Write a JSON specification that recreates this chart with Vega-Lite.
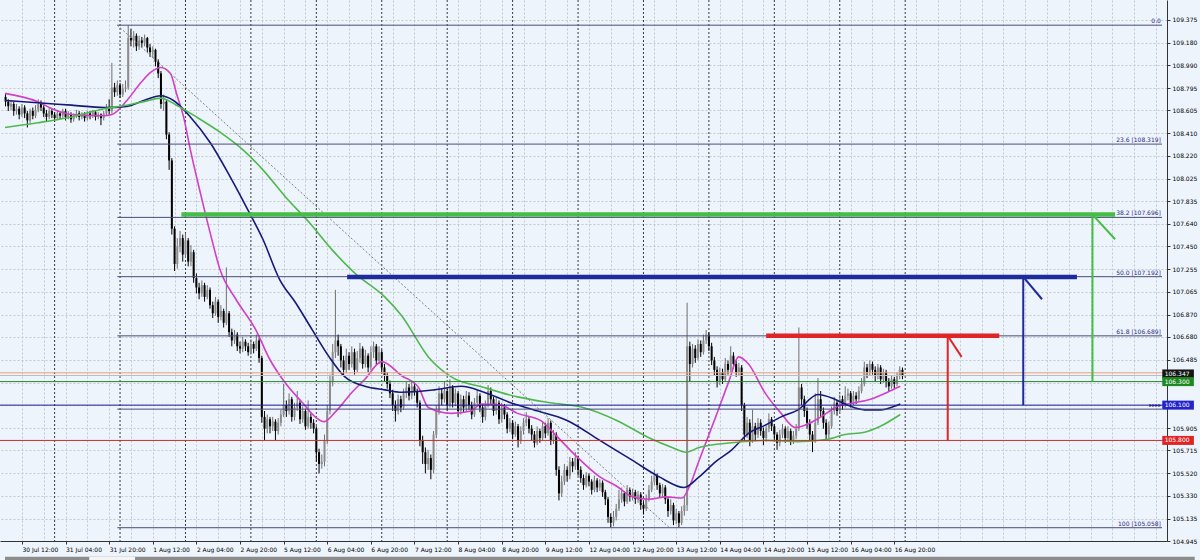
{
"$schema": "https://vega.github.io/schema/vega-lite/v6.json",
"width": 1167, "height": 541,
"autosize": {"type": "none"},
"padding": {"left": 0, "top": 0, "right": 33, "bottom": 19},
"background": "#eef4fb",
"resolve": {"scale": {"color": "independent", "strokeWidth": "independent"}},
"config": {"font": "DejaVu Sans", "view": {"stroke": null}, "axis": {"labelFont": "DejaVu Sans", "labelFontSize": 6, "labelColor": "#000", "labelOverlap": false, "labelFlush": false, "labelBound": false}},
"datasets": {
"candles": [
{"i":-18,"o":108.72,"h":108.75,"l":108.64,"c":108.68},{"i":-17,"o":108.68,"h":108.70,"l":108.60,"c":108.64},{"i":-16,"o":108.64,"h":108.69,"l":108.61,"c":108.66},{"i":-15,"o":108.66,"h":108.68,"l":108.56,"c":108.60},{"i":-14,"o":108.60,"h":108.66,"l":108.57,"c":108.62},{"i":-13,"o":108.62,"h":108.64,"l":108.53,"c":108.57},{"i":-12,"o":108.57,"h":108.66,"l":108.55,"c":108.63},{"i":-11,"o":108.63,"h":108.65,"l":108.54,"c":108.58},{"i":-10,"o":108.58,"h":108.60,"l":108.46,"c":108.52},{"i":-9,"o":108.52,"h":108.62,"l":108.50,"c":108.60},{"i":-8,"o":108.60,"h":108.63,"l":108.53,"c":108.56},{"i":-7,"o":108.56,"h":108.65,"l":108.54,"c":108.61},{"i":-6,"o":108.61,"h":108.70,"l":108.59,"c":108.66},{"i":-5,"o":108.66,"h":108.69,"l":108.60,"c":108.63},{"i":-4,"o":108.63,"h":108.65,"l":108.55,"c":108.58},{"i":-3,"o":108.58,"h":108.61,"l":108.51,"c":108.55},{"i":-2,"o":108.55,"h":108.63,"l":108.53,"c":108.60},{"i":-1,"o":108.60,"h":108.62,"l":108.54,"c":108.57},
{"i":0,"o":108.57,"h":108.59,"l":108.51,"c":108.54},{"i":1,"o":108.54,"h":108.61,"l":108.52,"c":108.58},{"i":2,"o":108.58,"h":108.60,"l":108.53,"c":108.56},{"i":3,"o":108.56,"h":108.62,"l":108.54,"c":108.60},{"i":4,"o":108.60,"h":108.62,"l":108.52,"c":108.55},{"i":5,"o":108.55,"h":108.60,"l":108.53,"c":108.57},{"i":6,"o":108.57,"h":108.59,"l":108.50,"c":108.53},{"i":7,"o":108.53,"h":108.58,"l":108.51,"c":108.56},{"i":8,"o":108.56,"h":108.61,"l":108.54,"c":108.58},{"i":9,"o":108.58,"h":108.60,"l":108.52,"c":108.55},{"i":10,"o":108.55,"h":108.59,"l":108.53,"c":108.57},{"i":11,"o":108.57,"h":108.59,"l":108.51,"c":108.54},{"i":12,"o":108.54,"h":108.60,"l":108.52,"c":108.58},{"i":13,"o":108.58,"h":108.60,"l":108.53,"c":108.56},{"i":14,"o":108.56,"h":108.61,"l":108.54,"c":108.59},{"i":15,"o":108.59,"h":108.60,"l":108.52,"c":108.55},{"i":16,"o":108.55,"h":108.59,"l":108.53,"c":108.57},{"i":17,"o":108.57,"h":108.58,"l":108.48,"c":108.54},{"i":18,"o":108.54,"h":108.60,"l":108.52,"c":108.58},{"i":19,"o":108.58,"h":108.66,"l":108.56,"c":108.62},
{"i":20,"o":108.62,"h":108.70,"l":108.57,"c":108.60},{"i":21,"o":108.60,"h":109.01,"l":108.58,"c":108.80},{"i":22,"o":108.80,"h":108.84,"l":108.72,"c":108.76},{"i":23,"o":108.76,"h":108.86,"l":108.73,"c":108.82},{"i":24,"o":108.82,"h":108.84,"l":108.71,"c":108.74},{"i":25,"o":108.74,"h":108.83,"l":108.72,"c":108.79},{"i":26,"o":108.79,"h":108.86,"l":108.76,"c":108.80},{"i":27,"o":108.80,"h":109.33,"l":108.78,"c":109.22},{"i":28,"o":109.22,"h":109.30,"l":109.15,"c":109.20},{"i":29,"o":109.20,"h":109.28,"l":109.14,"c":109.24},{"i":30,"o":109.24,"h":109.26,"l":109.11,"c":109.15},{"i":31,"o":109.15,"h":109.24,"l":109.12,"c":109.20},{"i":32,"o":109.20,"h":109.23,"l":109.14,"c":109.18},{"i":33,"o":109.18,"h":109.25,"l":109.15,"c":109.22},{"i":34,"o":109.22,"h":109.23,"l":109.10,"c":109.14},{"i":35,"o":109.14,"h":109.17,"l":109.06,"c":109.10},{"i":36,"o":109.10,"h":109.15,"l":109.05,"c":109.12},{"i":37,"o":109.12,"h":109.13,"l":108.98,"c":109.02},{"i":38,"o":109.02,"h":109.04,"l":108.88,"c":108.92},{"i":39,"o":108.92,"h":108.94,"l":108.62,"c":108.66},
{"i":40,"o":108.66,"h":108.74,"l":108.60,"c":108.68},{"i":41,"o":108.68,"h":108.70,"l":108.36,"c":108.40},{"i":42,"o":108.40,"h":108.42,"l":108.10,"c":108.18},{"i":43,"o":108.18,"h":108.20,"l":107.55,"c":107.60},{"i":44,"o":107.60,"h":107.62,"l":107.24,"c":107.30},{"i":45,"o":107.30,"h":107.52,"l":107.26,"c":107.45},{"i":46,"o":107.45,"h":107.58,"l":107.40,"c":107.52},{"i":47,"o":107.52,"h":107.55,"l":107.32,"c":107.38},{"i":48,"o":107.38,"h":107.56,"l":107.35,"c":107.50},{"i":49,"o":107.50,"h":107.52,"l":107.28,"c":107.32},{"i":50,"o":107.32,"h":107.46,"l":107.28,"c":107.40},{"i":51,"o":107.40,"h":107.42,"l":107.14,"c":107.18},{"i":52,"o":107.18,"h":107.22,"l":107.05,"c":107.10},{"i":53,"o":107.10,"h":107.14,"l":107.00,"c":107.05},{"i":54,"o":107.05,"h":107.16,"l":107.02,"c":107.12},{"i":55,"o":107.12,"h":107.14,"l":106.98,"c":107.02},{"i":56,"o":107.02,"h":107.12,"l":107.00,"c":107.08},{"i":57,"o":107.08,"h":107.10,"l":106.92,"c":106.95},{"i":58,"o":106.95,"h":106.98,"l":106.84,"c":106.88},{"i":59,"o":106.88,"h":107.02,"l":106.86,"c":106.98},
{"i":60,"o":106.98,"h":107.00,"l":106.80,"c":106.85},{"i":61,"o":106.85,"h":106.95,"l":106.82,"c":106.90},{"i":62,"o":106.90,"h":106.92,"l":106.76,"c":106.80},{"i":63,"o":106.80,"h":107.27,"l":106.78,"c":106.88},{"i":64,"o":106.88,"h":106.90,"l":106.68,"c":106.72},{"i":65,"o":106.72,"h":106.75,"l":106.60,"c":106.65},{"i":66,"o":106.65,"h":106.74,"l":106.62,"c":106.70},{"i":67,"o":106.70,"h":106.72,"l":106.56,"c":106.60},{"i":68,"o":106.60,"h":106.64,"l":106.54,"c":106.58},{"i":69,"o":106.58,"h":106.68,"l":106.55,"c":106.64},{"i":70,"o":106.64,"h":106.66,"l":106.56,"c":106.60},{"i":71,"o":106.60,"h":106.63,"l":106.52,"c":106.55},{"i":72,"o":106.55,"h":106.66,"l":106.53,"c":106.62},{"i":73,"o":106.62,"h":106.64,"l":106.54,"c":106.58},{"i":74,"o":106.58,"h":106.70,"l":106.56,"c":106.65},{"i":75,"o":106.65,"h":106.67,"l":106.46,"c":106.50},{"i":76,"o":106.50,"h":106.52,"l":105.95,"c":106.00},{"i":77,"o":106.00,"h":106.05,"l":105.80,"c":105.90},{"i":78,"o":105.90,"h":106.02,"l":105.86,"c":105.98},{"i":79,"o":105.98,"h":106.00,"l":105.86,"c":105.92},
{"i":80,"o":105.92,"h":106.00,"l":105.88,"c":105.96},{"i":81,"o":105.96,"h":105.98,"l":105.80,"c":105.88},{"i":82,"o":105.88,"h":105.99,"l":105.85,"c":105.95},{"i":83,"o":105.95,"h":106.06,"l":105.92,"c":106.02},{"i":84,"o":106.02,"h":106.28,"l":106.00,"c":106.10},{"i":85,"o":106.10,"h":106.14,"l":106.00,"c":106.05},{"i":86,"o":106.05,"h":106.20,"l":106.02,"c":106.15},{"i":87,"o":106.15,"h":106.17,"l":105.96,"c":106.00},{"i":88,"o":106.00,"h":106.12,"l":105.97,"c":106.08},{"i":89,"o":106.08,"h":106.22,"l":106.05,"c":106.12},{"i":90,"o":106.12,"h":106.14,"l":105.94,"c":105.98},{"i":91,"o":105.98,"h":106.09,"l":105.95,"c":106.05},{"i":92,"o":106.05,"h":106.07,"l":105.89,"c":105.92},{"i":93,"o":105.92,"h":106.14,"l":105.90,"c":106.00},{"i":94,"o":106.00,"h":106.03,"l":105.90,"c":105.95},{"i":95,"o":105.95,"h":105.98,"l":105.86,"c":105.90},{"i":96,"o":105.90,"h":105.92,"l":105.62,"c":105.70},{"i":97,"o":105.70,"h":105.73,"l":105.52,"c":105.60},{"i":98,"o":105.60,"h":105.68,"l":105.56,"c":105.62},{"i":99,"o":105.62,"h":105.85,"l":105.58,"c":105.80},
{"i":100,"o":105.80,"h":106.10,"l":105.77,"c":106.05},{"i":101,"o":106.05,"h":106.36,"l":106.02,"c":106.30},{"i":102,"o":106.30,"h":106.62,"l":106.26,"c":106.55},{"i":103,"o":106.55,"h":107.08,"l":106.50,"c":106.65},{"i":104,"o":106.65,"h":106.70,"l":106.52,"c":106.60},{"i":105,"o":106.60,"h":106.62,"l":106.42,"c":106.48},{"i":106,"o":106.48,"h":106.52,"l":106.35,"c":106.40},{"i":107,"o":106.40,"h":106.58,"l":106.37,"c":106.52},{"i":108,"o":106.52,"h":106.55,"l":106.40,"c":106.45},{"i":109,"o":106.45,"h":106.60,"l":106.42,"c":106.55},{"i":110,"o":106.55,"h":106.58,"l":106.36,"c":106.40},{"i":111,"o":106.40,"h":106.56,"l":106.38,"c":106.50},{"i":112,"o":106.50,"h":106.63,"l":106.46,"c":106.58},{"i":113,"o":106.58,"h":106.60,"l":106.41,"c":106.45},{"i":114,"o":106.45,"h":106.57,"l":106.42,"c":106.52},{"i":115,"o":106.52,"h":106.54,"l":106.38,"c":106.42},{"i":116,"o":106.42,"h":106.60,"l":106.40,"c":106.55},{"i":117,"o":106.55,"h":106.64,"l":106.50,"c":106.60},{"i":118,"o":106.60,"h":106.62,"l":106.44,"c":106.48},{"i":119,"o":106.48,"h":106.60,"l":106.45,"c":106.55},
{"i":120,"o":106.55,"h":106.57,"l":106.38,"c":106.42},{"i":121,"o":106.42,"h":106.45,"l":106.30,"c":106.35},{"i":122,"o":106.35,"h":106.38,"l":106.24,"c":106.28},{"i":123,"o":106.28,"h":106.31,"l":106.16,"c":106.20},{"i":124,"o":106.20,"h":106.23,"l":106.05,"c":106.10},{"i":125,"o":106.10,"h":106.14,"l":105.96,"c":106.05},{"i":126,"o":106.05,"h":106.19,"l":106.02,"c":106.15},{"i":127,"o":106.15,"h":106.18,"l":106.04,"c":106.08},{"i":128,"o":106.08,"h":106.24,"l":106.06,"c":106.20},{"i":129,"o":106.20,"h":106.30,"l":106.16,"c":106.25},{"i":130,"o":106.25,"h":106.28,"l":106.14,"c":106.18},{"i":131,"o":106.18,"h":106.31,"l":106.15,"c":106.26},{"i":132,"o":106.26,"h":106.29,"l":106.18,"c":106.22},{"i":133,"o":106.22,"h":106.24,"l":106.08,"c":106.12},{"i":134,"o":106.12,"h":106.14,"l":105.75,"c":105.80},{"i":135,"o":105.80,"h":105.84,"l":105.60,"c":105.70},{"i":136,"o":105.70,"h":105.74,"l":105.52,"c":105.60},{"i":137,"o":105.60,"h":105.72,"l":105.55,"c":105.65},{"i":138,"o":105.65,"h":105.68,"l":105.47,"c":105.55},{"i":139,"o":105.55,"h":105.88,"l":105.52,"c":105.85},
{"i":140,"o":105.85,"h":106.10,"l":105.82,"c":106.05},{"i":141,"o":106.05,"h":106.26,"l":106.02,"c":106.20},{"i":142,"o":106.20,"h":106.24,"l":106.10,"c":106.15},{"i":143,"o":106.15,"h":106.30,"l":106.12,"c":106.22},{"i":144,"o":106.22,"h":106.24,"l":106.05,"c":106.10},{"i":145,"o":106.10,"h":106.32,"l":106.08,"c":106.25},{"i":146,"o":106.25,"h":106.27,"l":106.08,"c":106.12},{"i":147,"o":106.12,"h":106.24,"l":106.09,"c":106.20},{"i":148,"o":106.20,"h":106.22,"l":106.00,"c":106.05},{"i":149,"o":106.05,"h":106.19,"l":106.02,"c":106.15},{"i":150,"o":106.15,"h":106.18,"l":106.04,"c":106.08},{"i":151,"o":106.08,"h":106.22,"l":106.05,"c":106.18},{"i":152,"o":106.18,"h":106.21,"l":106.06,"c":106.10},{"i":153,"o":106.10,"h":106.13,"l":105.98,"c":106.02},{"i":154,"o":106.02,"h":106.16,"l":106.00,"c":106.12},{"i":155,"o":106.12,"h":106.23,"l":106.09,"c":106.18},{"i":156,"o":106.18,"h":106.20,"l":106.04,"c":106.08},{"i":157,"o":106.08,"h":106.11,"l":105.95,"c":106.00},{"i":158,"o":106.00,"h":106.14,"l":105.97,"c":106.10},{"i":159,"o":106.10,"h":106.27,"l":106.08,"c":106.22},
{"i":160,"o":106.22,"h":106.25,"l":106.11,"c":106.15},{"i":161,"o":106.15,"h":106.17,"l":106.01,"c":106.05},{"i":162,"o":106.05,"h":106.16,"l":106.02,"c":106.12},{"i":163,"o":106.12,"h":106.14,"l":105.94,"c":105.98},{"i":164,"o":105.98,"h":106.12,"l":105.95,"c":106.08},{"i":165,"o":106.08,"h":106.11,"l":105.98,"c":106.02},{"i":166,"o":106.02,"h":106.04,"l":105.86,"c":105.90},{"i":167,"o":105.90,"h":105.99,"l":105.87,"c":105.95},{"i":168,"o":105.95,"h":105.97,"l":105.81,"c":105.85},{"i":169,"o":105.85,"h":105.96,"l":105.83,"c":105.92},{"i":170,"o":105.92,"h":105.94,"l":105.74,"c":105.80},{"i":171,"o":105.80,"h":105.92,"l":105.77,"c":105.88},{"i":172,"o":105.88,"h":105.99,"l":105.85,"c":105.95},{"i":173,"o":105.95,"h":106.04,"l":105.92,"c":105.98},{"i":174,"o":105.98,"h":106.00,"l":105.86,"c":105.90},{"i":175,"o":105.90,"h":105.93,"l":105.80,"c":105.85},{"i":176,"o":105.85,"h":105.88,"l":105.74,"c":105.78},{"i":177,"o":105.78,"h":105.92,"l":105.76,"c":105.88},{"i":178,"o":105.88,"h":105.90,"l":105.78,"c":105.82},{"i":179,"o":105.82,"h":105.96,"l":105.80,"c":105.92},
{"i":180,"o":105.92,"h":105.95,"l":105.82,"c":105.86},{"i":181,"o":105.86,"h":105.99,"l":105.84,"c":105.95},{"i":182,"o":105.95,"h":105.97,"l":105.76,"c":105.80},{"i":183,"o":105.80,"h":105.89,"l":105.77,"c":105.85},{"i":184,"o":105.85,"h":105.87,"l":105.50,"c":105.55},{"i":185,"o":105.55,"h":105.58,"l":105.29,"c":105.35},{"i":186,"o":105.35,"h":105.50,"l":105.32,"c":105.45},{"i":187,"o":105.45,"h":105.60,"l":105.42,"c":105.55},{"i":188,"o":105.55,"h":105.58,"l":105.45,"c":105.50},{"i":189,"o":105.50,"h":105.66,"l":105.47,"c":105.62},{"i":190,"o":105.62,"h":105.65,"l":105.53,"c":105.58},{"i":191,"o":105.58,"h":105.70,"l":105.55,"c":105.65},{"i":192,"o":105.65,"h":105.67,"l":105.50,"c":105.55},{"i":193,"o":105.55,"h":105.58,"l":105.44,"c":105.48},{"i":194,"o":105.48,"h":105.51,"l":105.38,"c":105.42},{"i":195,"o":105.42,"h":105.53,"l":105.40,"c":105.50},{"i":196,"o":105.50,"h":105.52,"l":105.41,"c":105.45},{"i":197,"o":105.45,"h":105.47,"l":105.34,"c":105.38},{"i":198,"o":105.38,"h":105.50,"l":105.36,"c":105.46},{"i":199,"o":105.46,"h":105.48,"l":105.36,"c":105.40},
{"i":200,"o":105.40,"h":105.47,"l":105.37,"c":105.44},{"i":201,"o":105.44,"h":105.46,"l":105.32,"c":105.36},{"i":202,"o":105.36,"h":105.38,"l":105.25,"c":105.30},{"i":203,"o":105.30,"h":105.32,"l":105.10,"c":105.15},{"i":204,"o":105.15,"h":105.18,"l":105.06,"c":105.10},{"i":205,"o":105.10,"h":105.20,"l":105.07,"c":105.15},{"i":206,"o":105.15,"h":105.26,"l":105.12,"c":105.22},{"i":207,"o":105.22,"h":105.38,"l":105.20,"c":105.30},{"i":208,"o":105.30,"h":105.40,"l":105.27,"c":105.35},{"i":209,"o":105.35,"h":105.37,"l":105.24,"c":105.28},{"i":210,"o":105.28,"h":105.42,"l":105.26,"c":105.38},{"i":211,"o":105.38,"h":105.40,"l":105.28,"c":105.32},{"i":212,"o":105.32,"h":105.39,"l":105.29,"c":105.36},{"i":213,"o":105.36,"h":105.38,"l":105.26,"c":105.30},{"i":214,"o":105.30,"h":105.37,"l":105.27,"c":105.34},{"i":215,"o":105.34,"h":105.36,"l":105.21,"c":105.25},{"i":216,"o":105.25,"h":105.28,"l":105.17,"c":105.22},{"i":217,"o":105.22,"h":105.34,"l":105.20,"c":105.30},{"i":218,"o":105.30,"h":105.42,"l":105.28,"c":105.38},{"i":219,"o":105.38,"h":105.50,"l":105.36,"c":105.45},
{"i":220,"o":105.45,"h":105.55,"l":105.42,"c":105.50},{"i":221,"o":105.50,"h":105.52,"l":105.38,"c":105.42},{"i":222,"o":105.42,"h":105.44,"l":105.31,"c":105.35},{"i":223,"o":105.35,"h":105.43,"l":105.32,"c":105.40},{"i":224,"o":105.40,"h":105.42,"l":105.26,"c":105.30},{"i":225,"o":105.30,"h":105.32,"l":105.15,"c":105.20},{"i":226,"o":105.20,"h":105.30,"l":105.17,"c":105.25},{"i":227,"o":105.25,"h":105.27,"l":105.08,"c":105.12},{"i":228,"o":105.12,"h":105.22,"l":105.09,"c":105.18},{"i":229,"o":105.18,"h":105.20,"l":105.06,"c":105.10},{"i":230,"o":105.10,"h":105.24,"l":105.08,"c":105.20},{"i":231,"o":105.20,"h":105.32,"l":105.16,"c":105.25},{"i":232,"o":105.25,"h":106.97,"l":105.20,"c":106.60},{"i":233,"o":106.60,"h":106.64,"l":106.30,"c":106.45},{"i":234,"o":106.45,"h":106.62,"l":106.42,"c":106.58},{"i":235,"o":106.58,"h":106.61,"l":106.46,"c":106.50},{"i":236,"o":106.50,"h":106.66,"l":106.48,"c":106.62},{"i":237,"o":106.62,"h":106.65,"l":106.51,"c":106.55},{"i":238,"o":106.55,"h":106.70,"l":106.53,"c":106.65},{"i":239,"o":106.65,"h":106.74,"l":106.62,"c":106.70},
{"i":240,"o":106.70,"h":106.72,"l":106.56,"c":106.60},{"i":241,"o":106.60,"h":106.63,"l":106.44,"c":106.48},{"i":242,"o":106.48,"h":106.51,"l":106.35,"c":106.40},{"i":243,"o":106.40,"h":106.43,"l":106.25,"c":106.30},{"i":244,"o":106.30,"h":106.42,"l":106.27,"c":106.38},{"i":245,"o":106.38,"h":106.41,"l":106.28,"c":106.32},{"i":246,"o":106.32,"h":106.50,"l":106.30,"c":106.45},{"i":247,"o":106.45,"h":106.48,"l":106.36,"c":106.40},{"i":248,"o":106.40,"h":106.60,"l":106.38,"c":106.52},{"i":249,"o":106.52,"h":106.55,"l":106.41,"c":106.45},{"i":250,"o":106.45,"h":106.48,"l":106.34,"c":106.38},{"i":251,"o":106.38,"h":106.46,"l":106.35,"c":106.42},{"i":252,"o":106.42,"h":106.44,"l":106.05,"c":106.10},{"i":253,"o":106.10,"h":106.12,"l":105.80,"c":105.85},{"i":254,"o":105.85,"h":106.00,"l":105.82,"c":105.95},{"i":255,"o":105.95,"h":105.98,"l":105.75,"c":105.80},{"i":256,"o":105.80,"h":106.06,"l":105.78,"c":105.92},{"i":257,"o":105.92,"h":105.95,"l":105.80,"c":105.85},{"i":258,"o":105.85,"h":105.99,"l":105.82,"c":105.95},{"i":259,"o":105.95,"h":105.98,"l":105.84,"c":105.88},
{"i":260,"o":105.88,"h":105.91,"l":105.76,"c":105.82},{"i":261,"o":105.82,"h":105.94,"l":105.79,"c":105.90},{"i":262,"o":105.90,"h":106.03,"l":105.87,"c":105.98},{"i":263,"o":105.98,"h":106.00,"l":105.88,"c":105.92},{"i":264,"o":105.92,"h":105.94,"l":105.80,"c":105.85},{"i":265,"o":105.85,"h":105.87,"l":105.72,"c":105.78},{"i":266,"o":105.78,"h":105.89,"l":105.75,"c":105.85},{"i":267,"o":105.85,"h":105.94,"l":105.82,"c":105.90},{"i":268,"o":105.90,"h":105.92,"l":105.78,"c":105.82},{"i":269,"o":105.82,"h":105.92,"l":105.79,"c":105.88},{"i":270,"o":105.88,"h":105.90,"l":105.76,"c":105.80},{"i":271,"o":105.80,"h":105.88,"l":105.77,"c":105.84},{"i":272,"o":105.84,"h":105.94,"l":105.81,"c":105.90},{"i":273,"o":105.90,"h":106.76,"l":105.88,"c":106.25},{"i":274,"o":106.25,"h":106.28,"l":106.10,"c":106.15},{"i":275,"o":106.15,"h":106.18,"l":106.00,"c":106.05},{"i":276,"o":106.05,"h":106.08,"l":105.90,"c":105.95},{"i":277,"o":105.95,"h":105.98,"l":105.80,"c":105.85},{"i":278,"o":105.85,"h":105.88,"l":105.70,"c":105.80},{"i":279,"o":105.80,"h":106.20,"l":105.78,"c":105.95},
{"i":280,"o":105.95,"h":106.33,"l":105.93,"c":106.15},{"i":281,"o":106.15,"h":106.22,"l":106.00,"c":106.05},{"i":282,"o":106.05,"h":106.08,"l":105.90,"c":105.95},{"i":283,"o":105.95,"h":105.98,"l":105.80,"c":105.85},{"i":284,"o":105.85,"h":105.96,"l":105.82,"c":105.92},{"i":285,"o":105.92,"h":106.09,"l":105.90,"c":106.05},{"i":286,"o":106.05,"h":106.17,"l":106.02,"c":106.12},{"i":287,"o":106.12,"h":106.14,"l":106.01,"c":106.05},{"i":288,"o":106.05,"h":106.19,"l":106.03,"c":106.15},{"i":289,"o":106.15,"h":106.18,"l":106.06,"c":106.10},{"i":290,"o":106.10,"h":106.26,"l":106.08,"c":106.18},{"i":291,"o":106.18,"h":106.24,"l":106.14,"c":106.20},{"i":292,"o":106.20,"h":106.22,"l":106.08,"c":106.12},{"i":293,"o":106.12,"h":106.22,"l":106.10,"c":106.18},{"i":294,"o":106.18,"h":106.21,"l":106.11,"c":106.15},{"i":295,"o":106.15,"h":106.26,"l":106.13,"c":106.22},{"i":296,"o":106.22,"h":106.33,"l":106.20,"c":106.28},{"i":297,"o":106.28,"h":106.47,"l":106.26,"c":106.42},{"i":298,"o":106.42,"h":106.45,"l":106.33,"c":106.38},{"i":299,"o":106.38,"h":106.48,"l":106.35,"c":106.45},
{"i":300,"o":106.45,"h":106.47,"l":106.36,"c":106.40},{"i":301,"o":106.40,"h":106.43,"l":106.30,"c":106.35},{"i":302,"o":106.35,"h":106.45,"l":106.32,"c":106.42},{"i":303,"o":106.42,"h":106.44,"l":106.28,"c":106.32},{"i":304,"o":106.32,"h":106.41,"l":106.29,"c":106.38},{"i":305,"o":106.38,"h":106.40,"l":106.25,"c":106.30},{"i":306,"o":106.30,"h":106.33,"l":106.22,"c":106.26},{"i":307,"o":106.26,"h":106.35,"l":106.24,"c":106.32},{"i":308,"o":106.32,"h":106.34,"l":106.24,"c":106.28},{"i":309,"o":106.28,"h":106.38,"l":106.26,"c":106.35},{"i":310,"o":106.35,"h":106.43,"l":106.32,"c":106.40},{"i":311,"o":106.40,"h":106.42,"l":106.32,"c":106.347}
],
"ma": [
{"s":"fast","i":-18.2,"p":108.75},{"s":"fast","i":-6.2,"p":108.68},{"s":"fast","i":0,"p":108.61},{"s":"fast","i":6.2,"p":108.57},{"s":"fast","i":18,"p":108.56},{"s":"fast","i":21,"p":108.57},{"s":"fast","i":26.5,"p":108.69},{"s":"fast","i":31.6,"p":108.84},{"s":"fast","i":35.3,"p":108.93},{"s":"fast","i":38.9,"p":108.97},{"s":"fast","i":42.5,"p":108.92},{"s":"fast","i":44.7,"p":108.75},{"s":"fast","i":47.3,"p":108.55},{"s":"fast","i":49.8,"p":108.27},{"s":"fast","i":53.5,"p":107.9},{"s":"fast","i":57.1,"p":107.56},{"s":"fast","i":60.7,"p":107.25},{"s":"fast","i":66.5,"p":107.0},{"s":"fast","i":73.8,"p":106.74},{"s":"fast","i":78.9,"p":106.49},{"s":"fast","i":83.6,"p":106.32},{"s":"fast","i":90.9,"p":106.12},{"s":"fast","i":95.6,"p":106.0},{"s":"fast","i":98.9,"p":105.96},{"s":"fast","i":102.9,"p":106.04},{"s":"fast","i":109.1,"p":106.21},{"s":"fast","i":113.8,"p":106.32},{"s":"fast","i":120,"p":106.47},{"s":"fast","i":127.3,"p":106.35},{"s":"fast","i":133.5,"p":106.25},{"s":"fast","i":137.1,"p":106.08},{"s":"fast","i":145.5,"p":106.03},{"s":"fast","i":152.7,"p":106.05},{"s":"fast","i":156.4,"p":106.11},{"s":"fast","i":163.6,"p":106.1},{"s":"fast","i":169.8,"p":106.03},{"s":"fast","i":178.2,"p":105.97},{"s":"fast","i":184.4,"p":105.83},{"s":"fast","i":191.6,"p":105.66},{"s":"fast","i":200,"p":105.49},{"s":"fast","i":206.2,"p":105.41},{"s":"fast","i":212,"p":105.32},{"s":"fast","i":218.2,"p":105.3},{"s":"fast","i":224.4,"p":105.32},{"s":"fast","i":230.2,"p":105.31},{"s":"fast","i":232.7,"p":105.4},{"s":"fast","i":236.4,"p":105.63},{"s":"fast","i":242.5,"p":106.0},{"s":"fast","i":247.3,"p":106.3},{"s":"fast","i":250.9,"p":106.51},{"s":"fast","i":254.5,"p":106.45},{"s":"fast","i":260.7,"p":106.2},{"s":"fast","i":266.5,"p":106.03},{"s":"fast","i":271.6,"p":105.91},{"s":"fast","i":275.3,"p":105.93},{"s":"fast","i":281.1,"p":106.0},{"s":"fast","i":287.3,"p":106.09},{"s":"fast","i":293.5,"p":106.12},{"s":"fast","i":299.3,"p":106.15},{"s":"fast","i":305.5,"p":106.21},{"s":"fast","i":310.2,"p":106.26},
{"s":"mid","i":-18.2,"p":108.69},{"s":"mid","i":-6.2,"p":108.67},{"s":"mid","i":6.2,"p":108.65},{"s":"mid","i":18.2,"p":108.63},{"s":"mid","i":26.5,"p":108.64},{"s":"mid","i":32.7,"p":108.69},{"s":"mid","i":38.9,"p":108.73},{"s":"mid","i":43.6,"p":108.69},{"s":"mid","i":49.8,"p":108.55},{"s":"mid","i":57.1,"p":108.33},{"s":"mid","i":64.4,"p":108.04},{"s":"mid","i":70.2,"p":107.79},{"s":"mid","i":76.4,"p":107.51},{"s":"mid","i":82.5,"p":107.17},{"s":"mid","i":88.4,"p":106.97},{"s":"mid","i":94.5,"p":106.74},{"s":"mid","i":100.7,"p":106.51},{"s":"mid","i":106.5,"p":106.34},{"s":"mid","i":113.8,"p":106.26},{"s":"mid","i":121.1,"p":106.23},{"s":"mid","i":127.3,"p":106.21},{"s":"mid","i":139.3,"p":106.23},{"s":"mid","i":149.1,"p":106.26},{"s":"mid","i":157.5,"p":106.21},{"s":"mid","i":167.3,"p":106.12},{"s":"mid","i":175.6,"p":106.06},{"s":"mid","i":188,"p":105.97},{"s":"mid","i":200,"p":105.8},{"s":"mid","i":212,"p":105.63},{"s":"mid","i":221.8,"p":105.49},{"s":"mid","i":230.9,"p":105.4},{"s":"mid","i":236.4,"p":105.49},{"s":"mid","i":242.5,"p":105.62},{"s":"mid","i":248.4,"p":105.72},{"s":"mid","i":254.5,"p":105.86},{"s":"mid","i":260.7,"p":105.93},{"s":"mid","i":266.5,"p":106.0},{"s":"mid","i":272.7,"p":106.06},{"s":"mid","i":280,"p":106.19},{"s":"mid","i":286.2,"p":106.15},{"s":"mid","i":290.9,"p":106.1},{"s":"mid","i":297.1,"p":106.06},{"s":"mid","i":302.9,"p":106.06},{"s":"mid","i":308,"p":106.09},{"s":"mid","i":310.2,"p":106.11},
{"s":"slow","i":-18.2,"p":108.46},{"s":"slow","i":-6.2,"p":108.5},{"s":"slow","i":6.2,"p":108.55},{"s":"slow","i":18.2,"p":108.62},{"s":"slow","i":26.5,"p":108.65},{"s":"slow","i":32.7,"p":108.68},{"s":"slow","i":38.9,"p":108.71},{"s":"slow","i":44.7,"p":108.65},{"s":"slow","i":52,"p":108.55},{"s":"slow","i":60.7,"p":108.42},{"s":"slow","i":69.1,"p":108.27},{"s":"slow","i":76.4,"p":108.1},{"s":"slow","i":84.7,"p":107.87},{"s":"slow","i":93.5,"p":107.65},{"s":"slow","i":101.8,"p":107.42},{"s":"slow","i":110.2,"p":107.22},{"s":"slow","i":121.1,"p":107.02},{"s":"slow","i":127.3,"p":106.86},{"s":"slow","i":137.1,"p":106.51},{"s":"slow","i":145.5,"p":106.34},{"s":"slow","i":157.5,"p":106.25},{"s":"slow","i":169.8,"p":106.17},{"s":"slow","i":181.8,"p":106.12},{"s":"slow","i":193.8,"p":106.08},{"s":"slow","i":206.2,"p":105.97},{"s":"slow","i":218.2,"p":105.82},{"s":"slow","i":226.5,"p":105.74},{"s":"slow","i":231.6,"p":105.7},{"s":"slow","i":236.4,"p":105.74},{"s":"slow","i":248.4,"p":105.78},{"s":"slow","i":260.7,"p":105.8},{"s":"slow","i":272.7,"p":105.79},{"s":"slow","i":283.6,"p":105.81},{"s":"slow","i":289.8,"p":105.85},{"s":"slow","i":297.1,"p":105.87},{"s":"slow","i":302.9,"p":105.92},{"s":"slow","i":310.2,"p":106.02}
],
"days": [{"d":0},{"d":24},{"d":48},{"d":72},{"d":96},{"d":120},{"d":144},{"d":168},{"d":192},{"d":216},{"d":240},{"d":264},{"d":288},{"d":312}],
"fibo": [{"p":109.33,"t":"0.0"},{"p":108.319,"t":"23.6 [108.319]"},{"p":107.696,"t":"38.2 [107.696]"},{"p":107.192,"t":"50.0 [107.192]"},{"p":106.689,"t":"61.8 [106.689]"},{"p":106.066,"t":""},{"p":105.058,"t":"100 [105.058]"}],
"fibdiag": [{"a":23,"p":109.33,"b":225.5,"q":105.058}],
"hlines": [{"p":106.375,"k":"orange"},{"p":106.352,"k":"bid"},{"p":106.3,"k":"green"},{"p":106.1,"k":"blue"},{"p":105.8,"k":"red"}],
"plabels": [{"p":106.365,"t":"106.347","k":"black"},{"p":106.3,"t":"106.300","k":"green"},{"p":106.1,"t":"106.100","k":"blue"},{"p":105.8,"t":"105.800","k":"red"}],
"marker": [{"p":106.1,"t":"▸▸▸▸"}],
"strip": [{"s":"bar","a":-18.2,"b":418.2},{"s":"tab","a":12.7,"b":29.5}],
"tlines": [
{"k":"green","w":"thick","a":46.5,"b":389,"p":107.72,"q":107.72},
{"k":"green","w":"thin","a":380.7,"b":380.7,"p":107.72,"q":106.3},
{"k":"green","w":"thin","a":380.7,"b":389,"p":107.72,"q":107.51},
{"k":"navy","w":"thick","a":107.3,"b":375,"p":107.19,"q":107.19},
{"k":"navy","w":"thin","a":355.3,"b":355.3,"p":107.19,"q":106.1},
{"k":"navy","w":"thin","a":355.3,"b":362.2,"p":107.19,"q":107.0},
{"k":"red","w":"thick","a":261,"b":346.5,"p":106.69,"q":106.69},
{"k":"red","w":"thin","a":327.6,"b":327.6,"p":106.69,"q":105.8},
{"k":"red","w":"thin","a":327.6,"b":332.7,"p":106.69,"q":106.51}
]
},
"layer": [
{
"data": {"name": "days"},
"mark": {"type": "rule", "color": "#3a3a3a", "strokeDash": [2, 2], "strokeWidth": 1},
"encoding": {
"x": {"field": "d", "type": "quantitative", "title": null, "scale": {"domain": [-18.2, 406.2], "nice": false, "zero": false},
"axis": {"orient": "bottom", "tickCount": 200, "values": [-12,-4,4,12,20,28,36,44,52,60,68,76,84,92,100,108,116,124,132,140,148,156,164,172,180,188,196,204,212,220,228,236,244,252,260,268,276,284,292,300,308,316,324,332,340,348,356,364,372,380,388,396,404],
"grid": true, "gridColor": "#c4c9d1", "gridDash": [2, 2], "domainColor": "#333", "tickSize": 3,
"tickColor": {"condition": {"test": "(datum.value + 12) % 16 != 0 || datum.value > 308", "value": "transparent"}, "value": "#333"},
"labelAlign": "left", "labelPadding": 2, "labelFlush": false, "labelOverlap": false, "labelBound": false,
"labelExpr": "(datum.value + 12) % 16 == 0 && datum.value <= 308 ? ['30 Jul 12:00','31 Jul 04:00','31 Jul 20:00','1 Aug 12:00','2 Aug 04:00','2 Aug 20:00','5 Aug 12:00','6 Aug 04:00','6 Aug 20:00','7 Aug 12:00','8 Aug 04:00','8 Aug 20:00','9 Aug 12:00','12 Aug 04:00','12 Aug 20:00','13 Aug 12:00','14 Aug 04:00','14 Aug 20:00','15 Aug 12:00','16 Aug 04:00','16 Aug 20:00'][(datum.value + 12) / 16] : ''"}}
}
},
{
"data": {"name": "candles"},
"mark": {"type": "rule", "strokeWidth": 1},
"encoding": {
"x": {"field": "i", "type": "quantitative", "title": null, "scale": {"domain": [-18.2, 406.2], "nice": false, "zero": false}},
"y": {"field": "l", "type": "quantitative", "title": null, "scale": {"domain": [104.945, 109.544], "nice": false, "zero": false},
"axis": {"orient": "right", "tickCount": 100, "values": [109.375,109.18,108.99,108.795,108.605,108.41,108.22,108.025,107.835,107.64,107.45,107.255,107.065,106.87,106.68,106.485,106.29,106.1,105.905,105.715,105.52,105.33,105.135,104.945],
"grid": true, "gridColor": "#c4c9d1", "gridDash": [2, 2], "domainColor": "#333", "tickSize": 3, "tickColor": "#333",
"labelPadding": 2, "labelFlush": false, "labelOverlap": false, "labelBound": false,
"labelExpr": "datum.value == 106.29 || datum.value == 106.1 ? '' : format(datum.value, '.3f')"}},
"y2": {"field": "h"},
"color": {"condition": {"test": "datum.c >= datum.o", "value": "#707070"}, "value": "#000000"}
}
},
{
"data": {"name": "candles"},
"mark": {"type": "bar", "size": 2},
"encoding": {
"x": {"field": "i", "type": "quantitative", "title": null, "scale": {"domain": [-18.2, 406.2], "nice": false, "zero": false}},
"y": {"field": "o", "type": "quantitative", "title": null, "scale": {"domain": [104.945, 109.544], "nice": false, "zero": false}},
"y2": {"field": "c"},
"color": {"condition": {"test": "datum.c >= datum.o", "value": "#8c8c8c"}, "value": "#000000"}
}
},
{
"data": {"name": "ma"},
"mark": {"type": "line", "strokeWidth": 1.6, "interpolate": "monotone"},
"encoding": {
"x": {"field": "i", "type": "quantitative", "title": null, "scale": {"domain": [-18.2, 406.2], "nice": false, "zero": false}},
"y": {"field": "p", "type": "quantitative", "title": null, "scale": {"domain": [104.945, 109.544], "nice": false, "zero": false}},
"color": {"field": "s", "type": "nominal", "legend": null, "scale": {"domain": ["fast", "mid", "slow"], "range": ["#d23fc8", "#16197a", "#4fb84f"]}}
}
},
{
"data": {"name": "fibo"},
"mark": {"type": "rule", "color": "#4c4c7c", "strokeWidth": 1},
"encoding": {
"x": {"datum": 23, "type": "quantitative", "scale": {"domain": [-18.2, 406.2], "nice": false, "zero": false}},
"x2": {"datum": 406.2},
"y": {"field": "p", "type": "quantitative", "title": null, "scale": {"domain": [104.945, 109.544], "nice": false, "zero": false}}
}
},
{
"data": {"name": "fibo"},
"mark": {"type": "text", "align": "right", "baseline": "bottom", "dy": -1, "fontSize": 6, "font": "DejaVu Sans", "color": "#2c2c86"},
"encoding": {
"x": {"datum": 405.8, "type": "quantitative", "scale": {"domain": [-18.2, 406.2], "nice": false, "zero": false}},
"y": {"field": "p", "type": "quantitative", "title": null, "scale": {"domain": [104.945, 109.544], "nice": false, "zero": false}},
"text": {"field": "t"}
}
},
{
"data": {"name": "fibdiag"},
"mark": {"type": "rule", "color": "#7c7c7c", "strokeDash": [2, 2], "strokeWidth": 1},
"encoding": {
"x": {"field": "a", "type": "quantitative", "title": null, "scale": {"domain": [-18.2, 406.2], "nice": false, "zero": false}},
"x2": {"field": "b"},
"y": {"field": "p", "type": "quantitative", "title": null, "scale": {"domain": [104.945, 109.544], "nice": false, "zero": false}},
"y2": {"field": "q"}
}
},
{
"data": {"name": "hlines"},
"mark": {"type": "rule", "strokeWidth": 1},
"encoding": {
"y": {"field": "p", "type": "quantitative", "title": null, "scale": {"domain": [104.945, 109.544], "nice": false, "zero": false}},
"color": {"field": "k", "type": "nominal", "legend": null, "scale": {"domain": ["orange", "bid", "green", "blue", "red"], "range": ["#ee9f78", "#bdbdbd", "#23862a", "#1a1a96", "#cf2a2a"]}}
}
},
{
"data": {"name": "marker"},
"mark": {"type": "text", "align": "right", "baseline": "middle", "fontSize": 6, "font": "DejaVu Sans", "color": "#1a1a96"},
"encoding": {
"x": {"datum": 405.9, "type": "quantitative", "scale": {"domain": [-18.2, 406.2], "nice": false, "zero": false}},
"y": {"field": "p", "type": "quantitative", "title": null, "scale": {"domain": [104.945, 109.544], "nice": false, "zero": false}},
"text": {"field": "t"}
}
},
{
"data": {"name": "tlines"},
"mark": {"type": "rule", "strokeCap": "butt"},
"encoding": {
"x": {"field": "a", "type": "quantitative", "title": null, "scale": {"domain": [-18.2, 406.2], "nice": false, "zero": false}},
"x2": {"field": "b"},
"y": {"field": "p", "type": "quantitative", "title": null, "scale": {"domain": [104.945, 109.544], "nice": false, "zero": false}},
"y2": {"field": "q"},
"color": {"field": "k", "type": "nominal", "legend": null, "scale": {"domain": ["green", "navy", "red"], "range": ["#46bd46", "#1d2b9c", "#df2626"]}},
"strokeWidth": {"field": "w", "type": "nominal", "legend": null, "scale": {"domain": ["thick", "thin"], "range": [4.5, 2]}}
}
},
{
"data": {"name": "plabels"},
"mark": {"type": "rule", "strokeWidth": 9, "strokeCap": "butt"},
"encoding": {
"x": {"datum": 406.3, "type": "quantitative", "scale": {"domain": [-18.2, 406.2], "nice": false, "zero": false}},
"x2": {"datum": 417.9},
"y": {"field": "p", "type": "quantitative", "title": null, "scale": {"domain": [104.945, 109.544], "nice": false, "zero": false}},
"color": {"field": "k", "type": "nominal", "legend": null, "scale": {"domain": ["black", "green", "blue", "red"], "range": ["#151515", "#1f8a22", "#2424c8", "#de2424"]}}
}
},
{
"data": {"name": "plabels"},
"mark": {"type": "text", "align": "left", "baseline": "middle", "fontSize": 6, "font": "DejaVu Sans", "color": "#ffffff"},
"encoding": {
"x": {"datum": 407.2, "type": "quantitative", "scale": {"domain": [-18.2, 406.2], "nice": false, "zero": false}},
"y": {"field": "p", "type": "quantitative", "title": null, "scale": {"domain": [104.945, 109.544], "nice": false, "zero": false}},
"text": {"field": "t"}
}
},
{
"data": {"name": "strip"},
"mark": {"type": "rule", "strokeWidth": 5, "strokeCap": "butt"},
"encoding": {
"x": {"field": "a", "type": "quantitative", "title": null, "scale": {"domain": [-18.2, 406.2], "nice": false, "zero": false}},
"x2": {"field": "b"},
"y": {"datum": 104.79, "type": "quantitative", "scale": {"domain": [104.945, 109.544], "nice": false, "zero": false}},
"color": {"field": "s", "type": "nominal", "legend": null, "scale": {"domain": ["bar", "tab"], "range": ["#8c8c8c", "#f4f4f4"]}}
}
}
]
}
